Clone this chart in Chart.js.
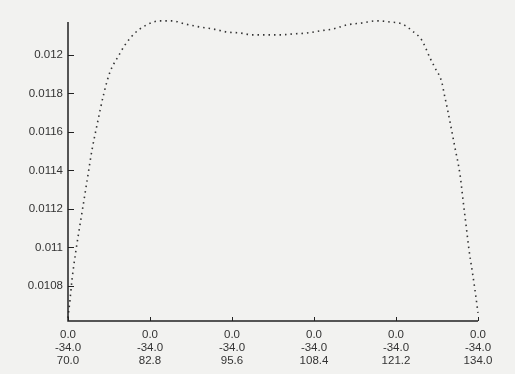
<!DOCTYPE html>
<html>
<head>
<meta charset="utf-8">
<script src="https://cdn.jsdelivr.net/npm/chart.js@4.4.1/dist/chart.umd.min.js"></script>
<style>
  html, body { margin: 0; padding: 0; background: #f2f2f0; }
  #wrap { width: 515px; height: 374px; }
</style>
</head>
<body>
<div id="wrap"><canvas id="chart"></canvas></div>
<script>
// values
const xValues = [70.0, 70.31, 70.62, 71.25, 71.87, 72.5, 73.12, 73.75, 74.53, 75.62,
  76.56, 77.8, 78.9, 80.46, 82.0, 84.36, 86.23, 88.26, 90.6, 92.63,
  94.82, 96.85, 98.88, 101.06, 103.1, 105.12, 107.31, 109.34, 111.37, 113.55,
  115.89, 118.23, 120.26, 122.14, 123.85, 125.26, 126.51, 127.29, 128.38, 128.69, 129.16,
  129.63, 130.41, 131.2, 131.66, 132.13, 132.6, 133.07, 133.53, 134.0];
const yValues = [0.010634, 0.010727, 0.010831, 0.010987, 0.011117, 0.011247, 0.011377, 0.011507, 0.011636, 0.011803,
  0.011912, 0.01199, 0.012052, 0.012114, 0.012151, 0.012177, 0.012177, 0.012161, 0.012145, 0.012135,
  0.012119, 0.012114, 0.012104, 0.012104, 0.012104, 0.012109, 0.012114, 0.012125, 0.012135, 0.012156,
  0.012166, 0.012177, 0.012171, 0.012161, 0.012122, 0.012075, 0.011984, 0.011933, 0.011855, 0.011803, 0.01173,
  0.011652, 0.011517, 0.011377, 0.011247, 0.011117, 0.010987, 0.010883, 0.010779, 0.01066];

const xTicks = [70.0, 82.8, 95.6, 108.4, 121.2, 134.0];
const xTickLine1 = ["0.0", "0.0", "0.0", "0.0", "0.0", "0.0"];
const xTickLine2 = ["-34.0", "-34.0", "-34.0", "-34.0", "-34.0", "-34.0"];
const yTicks = [0.0108, 0.011, 0.0112, 0.0114, 0.0116, 0.0118, 0.012];
const yMin = 0.010618;
const yMax = 0.012171;

const points = xValues.map((x, i) => ({ x: x, y: yValues[i] }));

// axis lines + short inward ticks, like the original plot
const axisPlugin = {
  id: "axisLines",
  afterDraw(chart) {
    const ctx = chart.ctx;
    const a = chart.chartArea;
    const xs = chart.scales.x;
    const ys = chart.scales.y;
    ctx.save();
    ctx.strokeStyle = "#222";
    ctx.lineWidth = 1.5;
    ctx.beginPath();
    ctx.moveTo(a.left, a.top);
    ctx.lineTo(a.left, a.bottom);
    ctx.lineTo(a.right, a.bottom);
    ctx.stroke();
    ctx.lineWidth = 1;
    ctx.beginPath();
    ys.ticks.forEach(t => {
      const py = Math.round(ys.getPixelForValue(t.value)) + 0.5;
      ctx.moveTo(a.left, py);
      ctx.lineTo(a.left + 6, py);
    });
    xs.ticks.forEach(t => {
      const px = Math.round(xs.getPixelForValue(t.value)) + 0.5;
      ctx.moveTo(px, a.bottom);
      ctx.lineTo(px, a.bottom - 4);
    });
    ctx.stroke();
    ctx.restore();
  }
};

const chart = new Chart(document.getElementById("chart"), {
  type: "scatter",
  data: {
    datasets: [{
      data: points,
      showLine: true,
      clip: false,
      borderColor: "#333",
      borderWidth: 1.6,
      borderDash: [1.5, 4],
      cubicInterpolationMode: "monotone",
      pointRadius: 0,
      fill: false
    }]
  },
  options: {
    responsive: true,
    maintainAspectRatio: false,
    animation: false,
    devicePixelRatio: 1,
    layout: { padding: { top: 22, right: 37, left: 0, bottom: 0 } },
    plugins: {
      legend: { display: false },
      tooltip: { enabled: false }
    },
    scales: {
      x: {
        type: "linear",
        min: 70,
        max: 134,
        grid: { display: false, drawTicks: false, tickLength: 0 },
        border: { display: false },
        afterBuildTicks: s => { s.ticks = xTicks.map(v => ({ value: v })); },
        afterFit: s => { s.height = 53; },
        ticks: {
          autoSkip: false,
          maxRotation: 0,
          padding: 8,
          color: "#333",
          font: { family: "Liberation Sans, Arial, sans-serif", size: 11.5, lineHeight: 1.1 },
          callback: (v, i) => [xTickLine1[i], xTickLine2[i], v.toFixed(1)]
        }
      },
      y: {
        type: "linear",
        min: yMin,
        max: yMax,
        grid: { display: false, drawTicks: false, tickLength: 0 },
        border: { display: false },
        afterBuildTicks: s => { s.ticks = yTicks.map(v => ({ value: v })); },
        afterFit: s => { s.width = 68; },
        ticks: {
          autoSkip: false,
          padding: 5,
          color: "#333",
          font: { family: "Liberation Sans, Arial, sans-serif", size: 11.5 },
          callback: v => String(Number(v.toFixed(4)))
        }
      }
    }
  },
  plugins: [axisPlugin]
});
</script>
</body>
</html>
